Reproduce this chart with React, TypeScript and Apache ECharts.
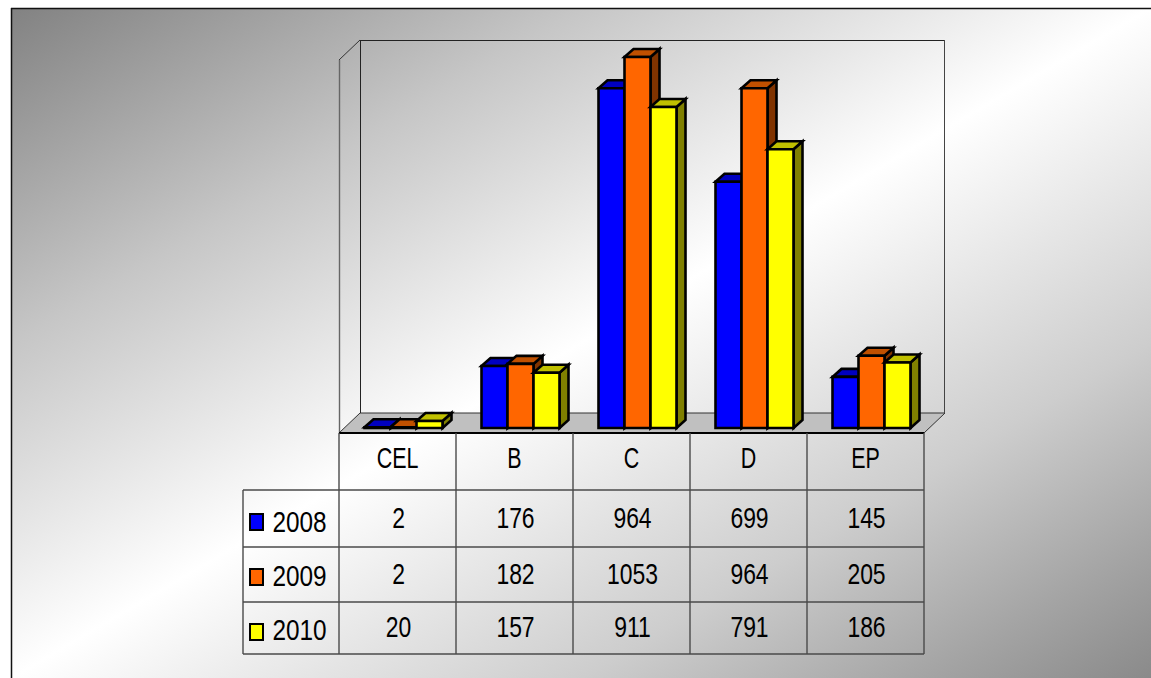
import React, { useEffect, useRef } from "react";
import * as echarts from "echarts";

const categories = ["CEL", "B", "C", "D", "EP"];
const years = ["2008", "2009", "2010"];
const values2008 = [2, 176, 964, 699, 145];
const values2009 = [2, 182, 1053, 964, 205];
const values2010 = [20, 157, 911, 791, 186];
const seriesValues = [values2008, values2009, values2010];
const frontColors = ["#0000ff", "#ff6600", "#ffff00"];
const topColors = ["#0000c0", "#c05000", "#c0c000"];
const sideColors = ["#000080", "#803300", "#808000"];

const FONT = '"Liberation Sans", Arial, sans-serif';
const colX = [339, 456, 573, 690, 807, 924];
const rowY = [433, 490, 547, 602, 654];
const labelRowY = [522, 576, 630];
const valueRowY = [518, 574, 627];
const keyY = [514, 569, 624];
const LEFT = 243;
const DEPTH_X = 9;
const DEPTH_Y = 8;

const seg = (x1: number, y1: number, x2: number, y2: number, stroke = "#4a4a4a", lineWidth = 1.4) => ({
  type: "line",
  z: 1,
  shape: { x1, y1, x2, y2 },
  style: { stroke, lineWidth },
});

const label = (text: string, x: number, y: number, scaleX: number) => ({
  type: "text",
  z: 3,
  x,
  y,
  scaleX,
  style: {
    text,
    x: 0,
    y: 0,
    fill: "#000",
    fontFamily: FONT,
    fontSize: 29,
    align: "center",
    verticalAlign: "middle",
    textAlign: "center",
    textVerticalAlign: "middle",
  },
});

function buildGraphics() {
  const els: any[] = [];
  els.push({
    type: "rect",
    z: 0,
    shape: { x: 12, y: 8, width: 1139, height: 670 },
    style: {
      fill: new echarts.graphic.LinearGradient(0, 0, 1, 1, [
        { offset: 0, color: "#828282" },
        { offset: 0.25, color: "#c6c6c6" },
        { offset: 0.5, color: "#ffffff" },
        { offset: 0.75, color: "#cdcdcd" },
        { offset: 0.9, color: "#a4a4a4" },
        { offset: 1, color: "#8a8a8a" },
      ]),
    },
  });
  els.push(seg(11.5, 8, 11.5, 678, "#111", 1.5));
  els.push(seg(11, 8.5, 1151, 8.5, "#111", 1.5));
  // floor
  els.push({
    type: "polygon",
    z: 1,
    shape: { points: [[339, 433], [924, 433], [945, 413], [360, 413]] },
    style: { fill: "#c0c0c0", stroke: "#333", lineWidth: 1 },
  });
  // walls
  els.push(seg(360, 40.5, 945, 40.5, "#222", 1));
  els.push(seg(360.5, 40, 360.5, 413, "#222", 1));
  els.push(seg(944.5, 40, 944.5, 413, "#444", 1));
  els.push(seg(339, 60, 360, 40, "#333", 1));
  els.push(seg(339.5, 60, 339.5, 433, "#666", 1.4));
  els.push(seg(339, 433, 924, 433, "#000", 2));
  // table
  colX.forEach((x) => els.push(seg(x, 433, x, rowY[4])));
  rowY.slice(1).forEach((y) => els.push(seg(LEFT, y, 924, y)));
  els.push(seg(LEFT, rowY[1], LEFT, rowY[4]));
  categories.forEach((c, i) => {
    els.push(label(c, (colX[i] + colX[i + 1]) / 2, 458, 0.74));
  });
  years.forEach((y, r) => {
    els.push({
      type: "rect",
      z: 3,
      shape: { x: 250, y: keyY[r], width: 13, height: 16 },
      style: { fill: frontColors[r], stroke: "#000", lineWidth: 2 },
    });
    els.push(label(y, 299.5, labelRowY[r], 0.84));
    seriesValues[r].forEach((v, i) => {
      els.push(label(String(v), (colX[i] + colX[i + 1]) / 2 + 1, valueRowY[r], 0.79));
    });
  });
  return els;
}

const makeSeries = (idx: number) => ({
  type: "custom",
  name: years[idx],
  z: 2,
  data: seriesValues[idx].map((v, i) => [i, v]),
  encode: { x: 0, y: 1 },
  renderItem: (_p: any, api: any) => {
    const i = api.value(0);
    const v = api.value(1);
    const [cx, y1] = api.coord([i, v]);
    const [, y0] = api.coord([i, 0]);
    const w = api.size([1, 0])[0] / 4.5;
    const x0 = cx - 1.5 * w + 6 + idx * w;
    const x1 = x0 + w;
    const dx = DEPTH_X;
    const dy = DEPTH_Y;
    const stroke = { stroke: "#000", lineWidth: 2.6, lineJoin: "miter" };
    return {
      type: "group",
      children: [
        {
          type: "polygon",
          shape: { points: [[x1, y1], [x1 + dx, y1 - dy], [x1 + dx, y0 - dy], [x1, y0]] },
          style: { fill: sideColors[idx], ...stroke },
        },
        {
          type: "polygon",
          shape: { points: [[x0, y1], [x0 + dx, y1 - dy], [x1 + dx, y1 - dy], [x1, y1]] },
          style: { fill: topColors[idx], ...stroke },
        },
        {
          type: "rect",
          shape: { x: x0, y: y1, width: w, height: y0 - y1 },
          style: { fill: frontColors[idx], ...stroke },
        },
      ],
    };
  },
});

export default function App() {
  const ref = useRef<HTMLDivElement>(null);
  useEffect(() => {
    document.body.style.margin = "0";
    const chart = echarts.init(ref.current!, undefined, { renderer: "svg" });
    chart.setOption({
      animation: false,
      backgroundColor: "#ffffff",
      grid: { left: 339, width: 585, top: 40.4, height: 387.6 },
      xAxis: { type: "category", data: categories, show: false },
      yAxis: { type: "value", min: 0, max: 1100, show: false },
      graphic: { elements: buildGraphics() },
      series: years.map((_, i) => makeSeries(i)),
    });
    return () => chart.dispose();
  }, []);
  return <div ref={ref} style={{ width: 1151, height: 678 }} />;
}
